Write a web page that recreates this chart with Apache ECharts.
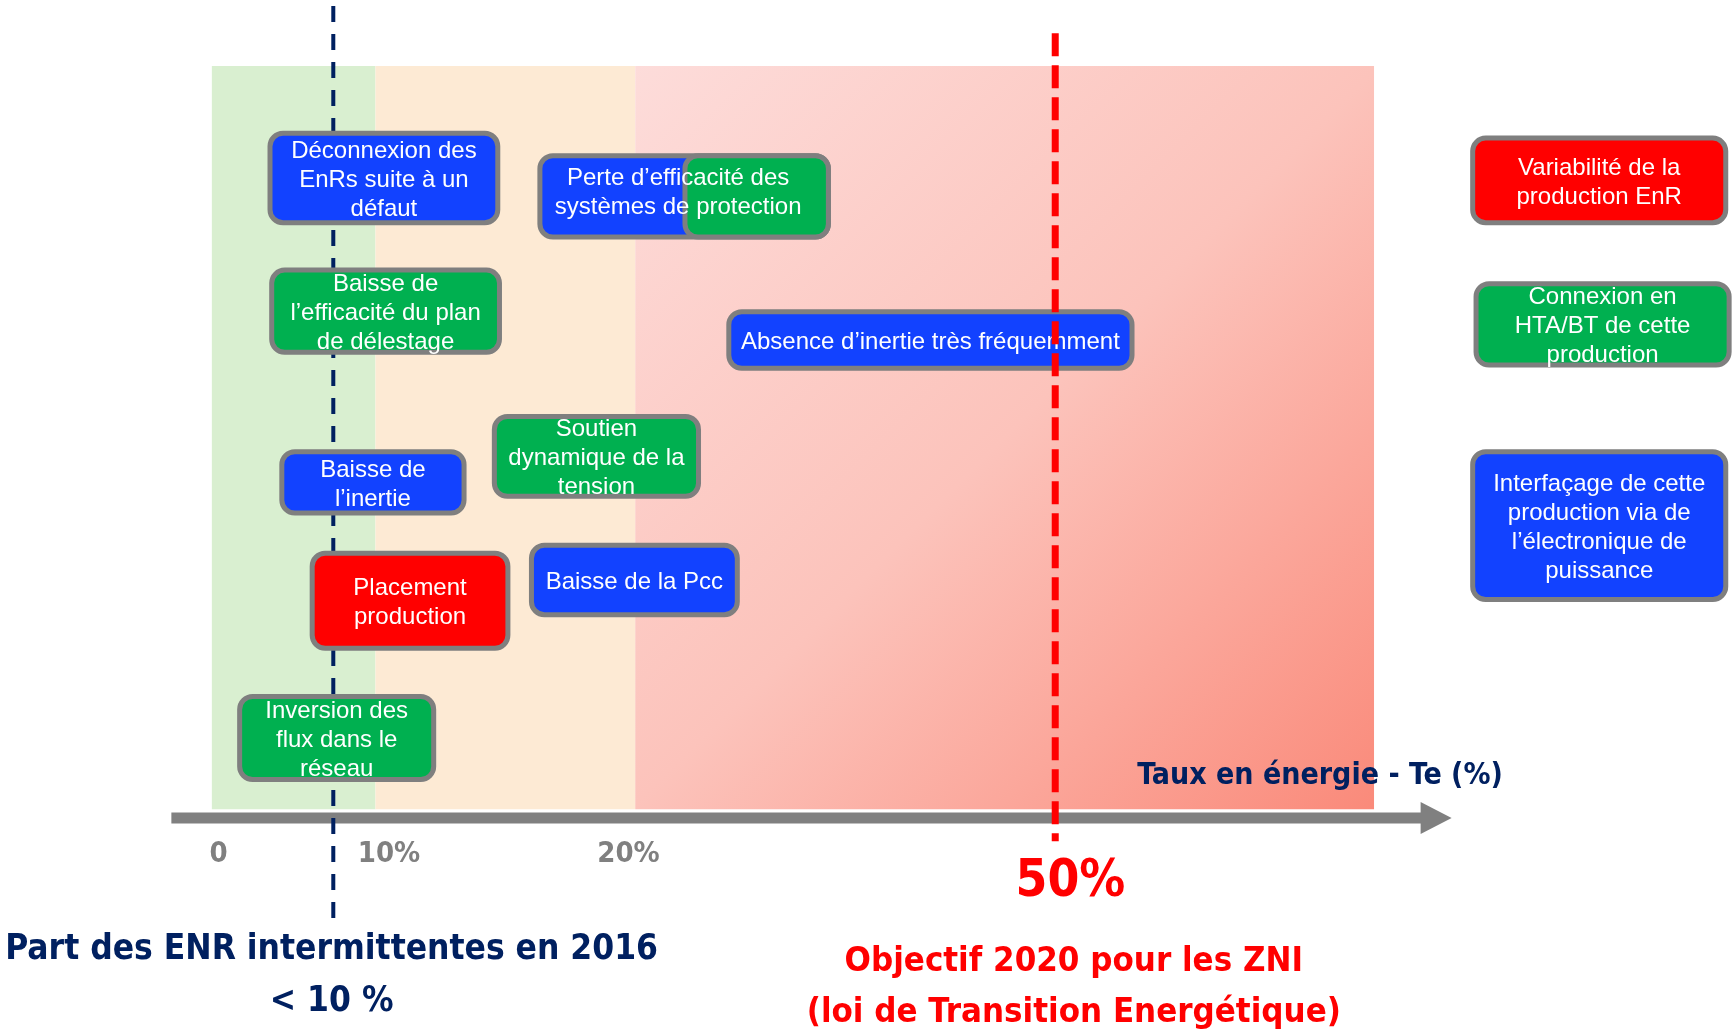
<!DOCTYPE html>
<html>
<head>
<meta charset="utf-8">
<script src="https://cdn.jsdelivr.net/npm/echarts@6/dist/echarts.min.js"></script>
<style>
html,body{margin:0;padding:0;background:#fff;}
#chart{width:1735px;height:1032px;}
</style>
</head>
<body>
<div id="chart"></div>
<script>
// axe Te (unités schématiques : 50 = objectif 50 %)
const zoneFrom = [0, 9.7, 25.1];
const zoneTo = [9.7, 25.1, 68.9];
const zoneTop = 94;
const zoneBottom = 1.1;

const tickPos = [0.4, 10.5, 24.7];
const tickLabels = ['0', '10%', '20%'];

const part2016 = 7.2;      // part ENR intermittentes 2016
const objectif2020 = 50;   // objectif ZNI

// problèmes rencontrés
const boxLabels = [
	'Déconnexion des\nEnRs suite à un\ndéfaut',
	'Perte d’efficacité des\nsystèmes de protection',
	'',
	'Baisse de\nl’efficacité du plan\nde délestage',
	'Absence d’inertie très fréquemment',
	'Soutien\ndynamique de la\ntension',
	'Baisse de\nl’inertie',
	'Placement\nproduction',
	'Baisse de la Pcc',
	'Inversion des\nflux dans le\nréseau'
];
const boxKinds = ['interfacage','interfacage','connexion','connexion','interfacage','connexion','interfacage','variabilite','interfacage','connexion'];
const boxFrom = [3.3, 19.3, 27.9, 3.4, 30.5, 16.6, 4.0, 5.8, 18.8, 1.5];
const boxTo = [17.1, 36.7, 36.7, 17.2, 54.7, 29.0, 15.1, 17.7, 31.3, 13.3];
const boxTop = [85.9, 83.1, 83.1, 68.8, 63.6, 50.5, 46.1, 33.4, 34.4, 15.5];
const boxBottom = [74.1, 72.3, 72.3, 57.9, 55.9, 39.9, 37.8, 20.9, 25.1, 4.5];

// légende (causes)
const legendKinds = ['variabilite','connexion','interfacage'];
const legendLabels = [
	'Variabilité de la\nproduction EnR',
	'Connexion en\nHTA/BT de cette\nproduction',
	'Interfaçage de cette\nproduction via de\nl’électronique de\npuissance'
];
const legendFrom = [74.6, 74.8, 74.6];
const legendTo = [89.9, 90.1, 89.9];
const legendTop = [85.3, 67.1, 46.1];
const legendBottom = [74.1, 56.3, 27.0];

const kindColor = {variabilite:'#FF0000', connexion:'#00B050', interfacage:'#1242FF'};
const narrow = '"Liberation Sans Narrow","DejaVu Sans Condensed","Open Sans",sans-serif';
const navy = '#002060';

const chart = echarts.init(document.getElementById('chart'));

function boxItem(params, api){
	const a = api.coord([api.value(0), api.value(2)]);
	const b = api.coord([api.value(1), api.value(3)]);
	const i = params.dataIndex;
	const lw = 5;
	const isLegend = params.seriesName === 'legend';
	const kind = isLegend ? legendKinds[i] : boxKinds[i];
	const label = isLegend ? legendLabels[i] : boxLabels[i];
	// le texte de "Perte d'efficacité" est un peu décalé vers la gauche / le haut
	const dx = (!isLegend && i === 1) ? -6 : 0;
	const dy = (!isLegend && i === 1) ? -4 : 2;
	return {
		type:'group',
		children:[
			{
				type:'rect',
				z2:i,
				shape:{x:a[0]+lw/2, y:a[1]+lw/2, width:b[0]-a[0]-lw, height:b[1]-a[1]-lw, r:13},
				style:{fill:kindColor[kind], stroke:'#7F7F7F', lineWidth:lw}
			},
			{
				type:'text',
				z2:100,
				style:{
					text:label, x:(a[0]+b[0])/2+dx, y:(a[1]+b[1])/2+dy,
					align:'center', verticalAlign:'middle',
					fill:'#fff', font:'24px "Liberation Sans",Arial,sans-serif', lineHeight:29
				}
			}
		]
	};
}

const option = {
	animation:false,
	grid:{left:1, width:1735, top:2, height:1024},
	xAxis:{type:'value', min:-12.5, max:90.3, show:false},
	yAxis:{type:'value', min:-26, max:102, show:false},
	series:[
		{
			name:'zones',
			type:'custom',
			clip:false,
			z:1,
			data:zoneFrom.map((s,i)=>[s, zoneTo[i], zoneTop, zoneBottom]),
			renderItem(params, api){
				const a = api.coord([api.value(0), api.value(2)]);
				const b = api.coord([api.value(1), api.value(3)]);
				const fills = [
					'#D9EFD0',
					'#FDEAD4',
					{type:'linear', x:0, y:0, x2:1, y2:1, colorStops:[
						{offset:0, color:'#FDDCDA'},
						{offset:0.5, color:'#FCC3BB'},
						{offset:1, color:'#FA8A7A'}
					]}
				];
				return {type:'rect', shape:{x:a[0], y:a[1], width:b[0]-a[0], height:b[1]-a[1]}, style:{fill:fills[params.dataIndex]}};
			}
		},
		{
			name:'axe',
			type:'custom',
			clip:false,
			z:2,
			data:[[-2.4, 73.5, 0]],
			renderItem(params, api){
				const s = api.coord([api.value(0), api.value(2)]);
				const e = api.coord([api.value(1), api.value(2)]);
				const head = 31;
				return {type:'group', children:[
					{type:'rect', shape:{x:s[0], y:s[1]-5.5, width:e[0]-s[0]-head+2, height:11}, style:{fill:'#808080'}},
					{type:'polygon', shape:{points:[[e[0]-head, e[1]-16],[e[0], e[1]],[e[0]-head, e[1]+16]]}, style:{fill:'#808080'}}
				]};
			}
		},
		{
			name:'2016',
			type:'custom',
			clip:false,
			z:3,
			data:[[part2016, 101.5, -12.5]],
			renderItem(params, api){
				const a = api.coord([api.value(0), api.value(1)]);
				const b = api.coord([api.value(0), api.value(2)]);
				return {type:'line', shape:{x1:a[0], y1:a[1], x2:b[0], y2:b[1]}, style:{stroke:navy, lineWidth:4, lineDash:[16,12]}};
			}
		},
		{
			name:'boxes',
			type:'custom',
			clip:false,
			z:4,
			data:boxFrom.map((s,i)=>[s, boxTo[i], boxTop[i], boxBottom[i]]),
			renderItem:boxItem
		},
		{
			name:'legend',
			type:'custom',
			clip:false,
			z:4,
			data:legendFrom.map((s,i)=>[s, legendTo[i], legendTop[i], legendBottom[i]]),
			renderItem:boxItem
		},
		{
			name:'objectif',
			type:'custom',
			clip:false,
			z:5,
			data:[[objectif2020, 98.1, -2.9]],
			renderItem(params, api){
				const a = api.coord([api.value(0), api.value(1)]);
				const b = api.coord([api.value(0), api.value(2)]);
				return {type:'line', shape:{x1:a[0], y1:a[1], x2:b[0], y2:b[1]}, style:{stroke:'#FF0000', lineWidth:7, lineDash:[23,9]}};
			}
		},
		{
			name:'textes',
			type:'custom',
			clip:false,
			z:6,
			data:[
				...tickPos.map((p,i)=>[p, -4.55, i]),
				[50.9, -8.1, 3],
				[65.7, 5.2, 4],
				[7.1, -19.8, 5],
				[51.1, -21.2, 6]
			],
			renderItem(params, api){
				const p = api.coord([api.value(0), api.value(1)]);
				const k = api.value(2);
				let text, font, fill, lh = 0;
				if(k < 3){
					text = tickLabels[k]; font = 'bold 29px '+narrow; fill = '#808080';
				}else if(k === 3){
					text = objectif2020+'%'; font = 'bold 51px '+narrow; fill = '#FF0000';
				}else if(k === 4){
					text = 'Taux en énergie - Te (%)'; font = 'bold 30px '+narrow; fill = navy;
				}else if(k === 5){
					text = 'Part des ENR intermittentes en 2016\n< 10 %'; font = 'bold 35px '+narrow; fill = navy; lh = 52;
				}else{
					text = 'Objectif 2020 pour les ZNI\n(loi de Transition Energétique)'; font = 'bold 34.5px '+narrow; fill = '#FF0000'; lh = 51;
				}
				const style = {text, x:p[0], y:p[1], align:'center', verticalAlign:'middle', font, fill};
				if(lh) style.lineHeight = lh;
				return {type:'text', style};
			}
		}
	]
};
chart.setOption(option);
window.addEventListener('resize', chart.resize);
</script>
</body>
</html>
